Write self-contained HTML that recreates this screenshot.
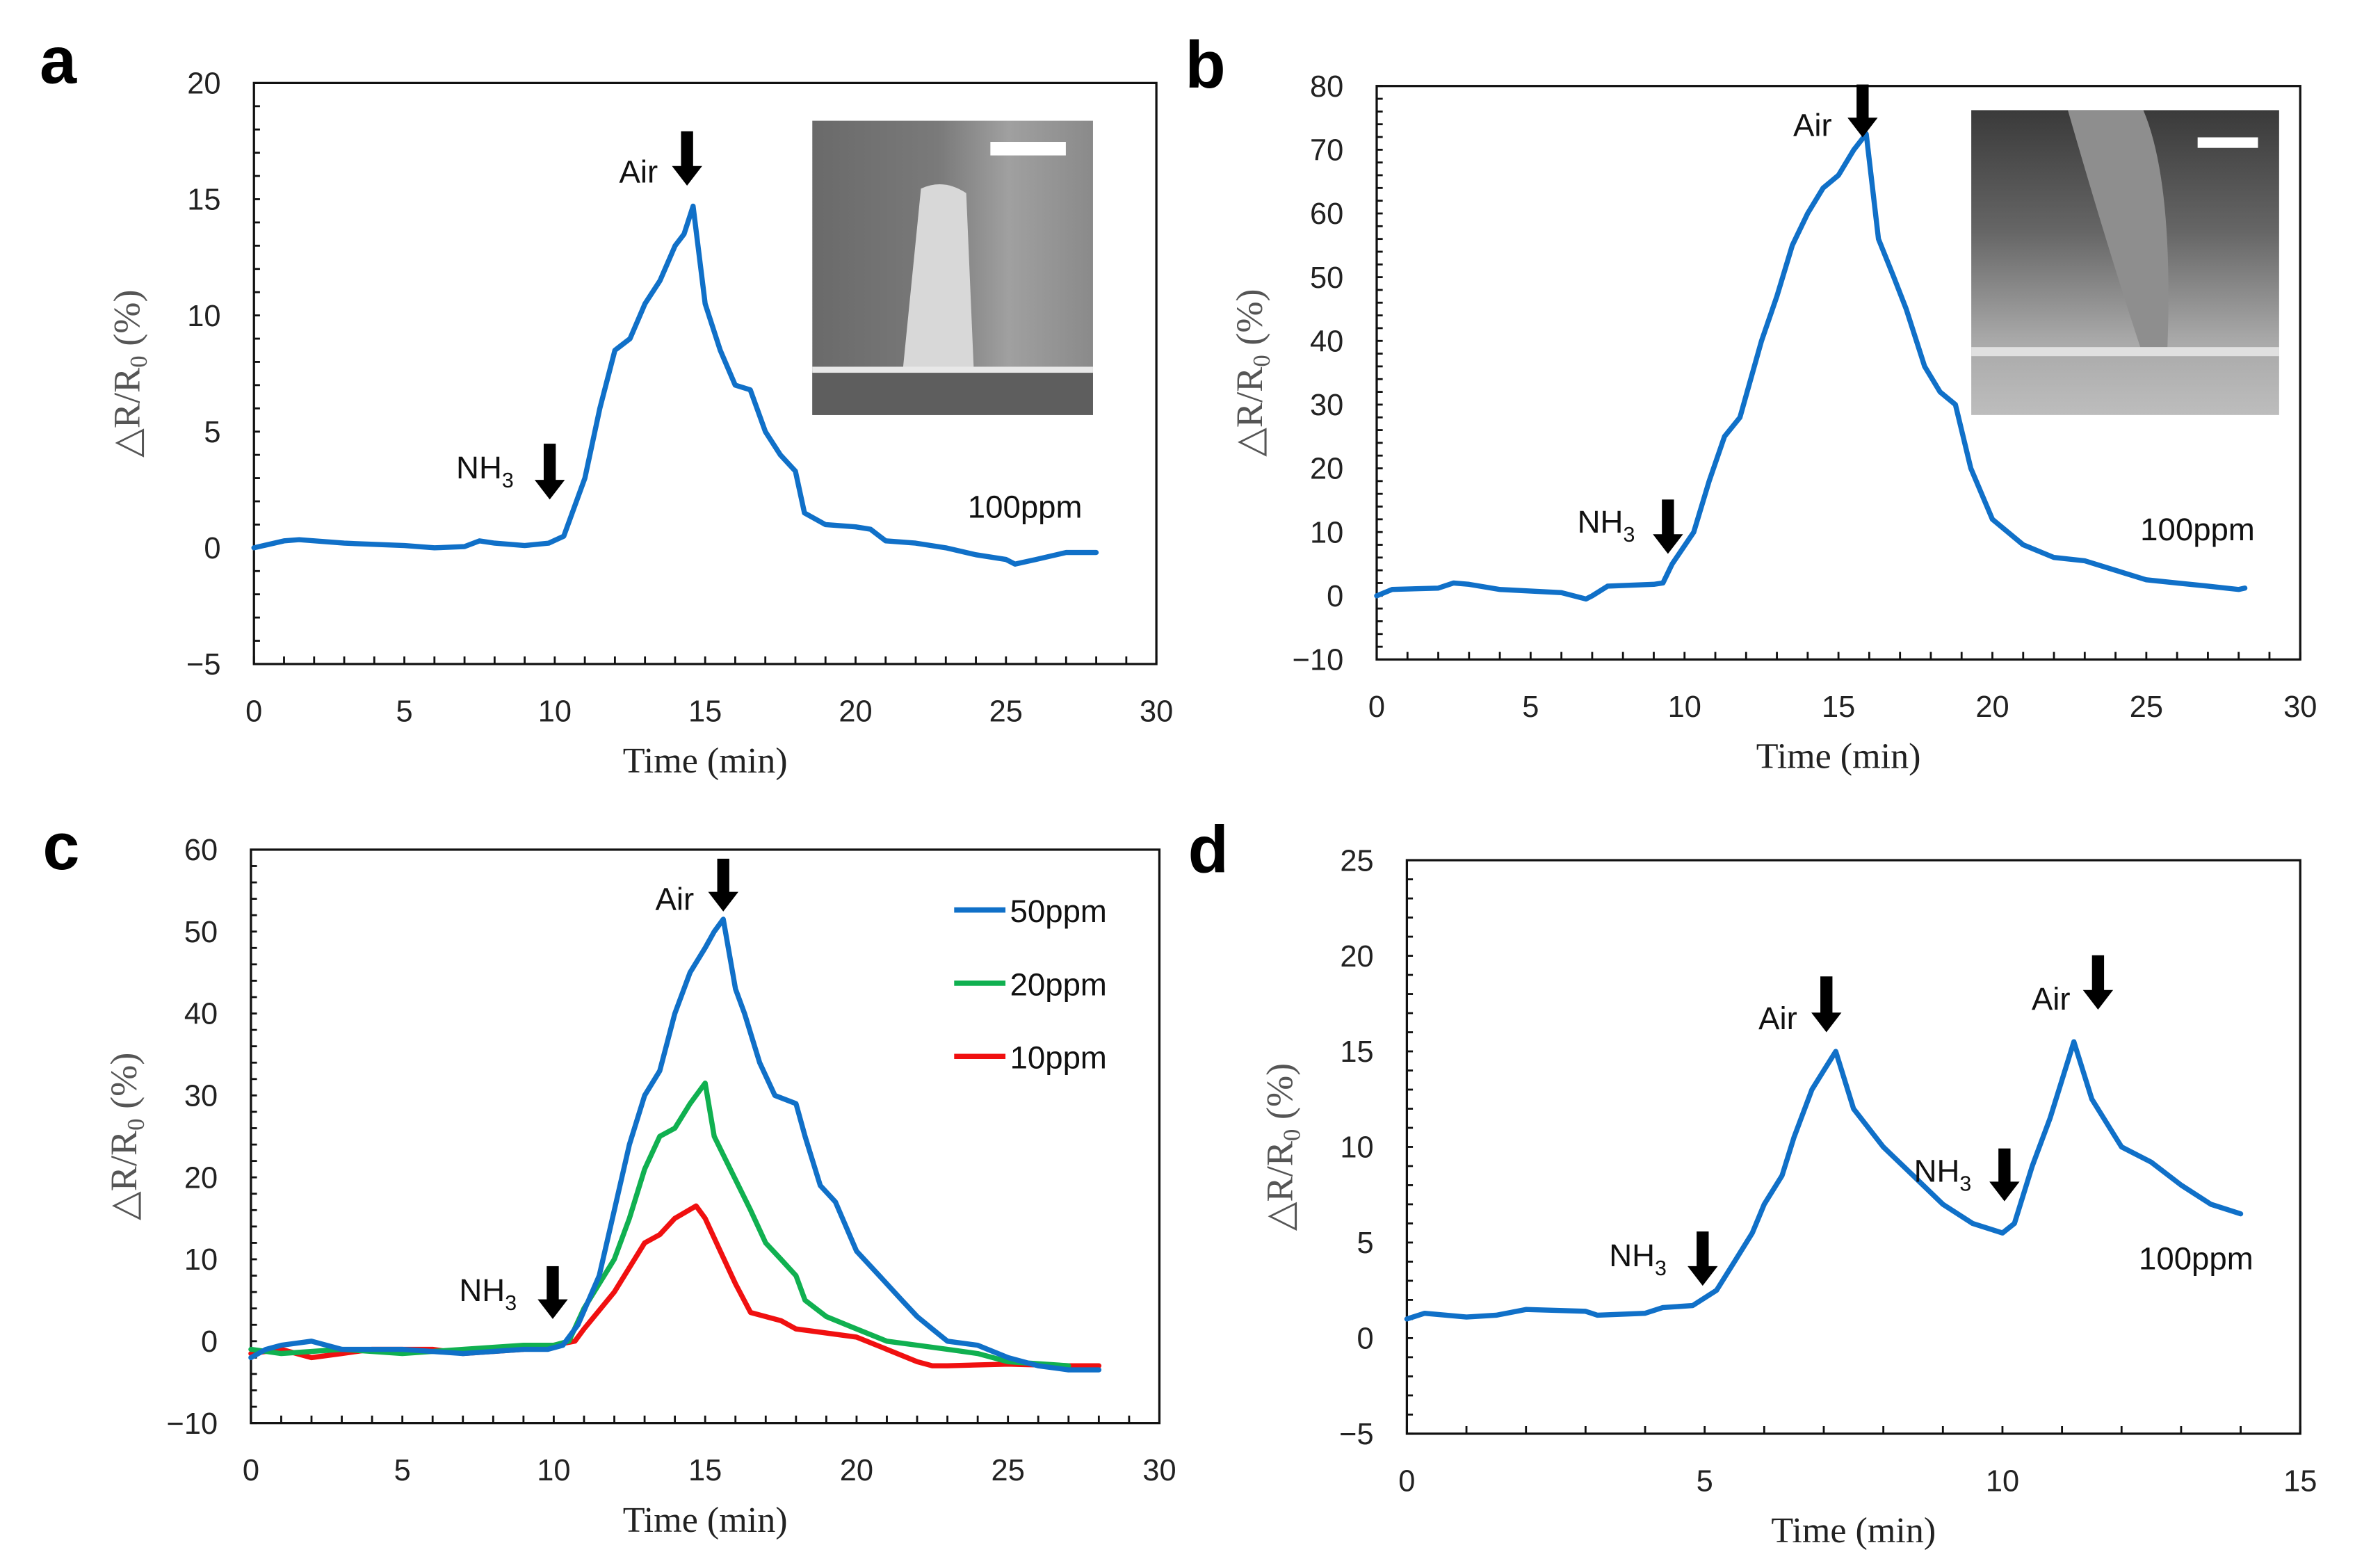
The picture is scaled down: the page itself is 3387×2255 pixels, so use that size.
<!DOCTYPE html>
<html><head><meta charset="utf-8"><style>
html,body{margin:0;padding:0;background:#fff;width:3387px;height:2255px;overflow:hidden}
svg{display:block}
.tk{font-family:"Liberation Sans",sans-serif;font-size:20px;fill:#222}
.ax{font-family:"Liberation Serif",serif;font-size:24px;fill:#222}
.yt{font-family:"Liberation Serif","DejaVu Serif",serif;font-size:25px;fill:#555}
.an{font-family:"Liberation Sans",sans-serif;font-size:21px;fill:#111}
.pl{font-family:"Liberation Sans",sans-serif;font-size:44px;font-weight:bold;fill:#000}
</style></head><body>
<svg id="fig" width="3387" height="2255" viewBox="0 0 1560 1039" xmlns="http://www.w3.org/2000/svg">
<defs>
<linearGradient id="gA" x1="0" y1="0" x2="1" y2="0"><stop offset="0" stop-color="#6a6a6a"/><stop offset="0.45" stop-color="#7a7a7a"/><stop offset="0.7" stop-color="#a0a0a0"/><stop offset="1" stop-color="#8a8a8a"/></linearGradient>
<linearGradient id="gB" x1="0" y1="0" x2="0" y2="1"><stop offset="0" stop-color="#3a3a3a"/><stop offset="0.4" stop-color="#666"/><stop offset="0.75" stop-color="#a8a8a8"/><stop offset="1" stop-color="#bdbdbd"/></linearGradient>
</defs>
<g id="insets">
<g>
<rect x="538" y="80" width="186" height="195" fill="url(#gA)"/>
<path d="M610 125 Q625 118 640 128 L645 245 L598 245 Z" fill="#d8d8d8"/>
<rect x="538" y="246" width="186" height="29" fill="#5e5e5e"/>
<rect x="538" y="243" width="186" height="4" fill="#e8e8e8"/>
<rect x="656" y="94" width="50" height="9" fill="#fff"/>
</g>
<g>
<rect x="1306" y="73" width="204" height="202" fill="url(#gB)"/>
<path d="M1370 73 L1420 73 Q1440 120 1436 230 L1418 230 Q1395 160 1370 73 Z" fill="#8e8e8e"/>
<rect x="1306" y="230" width="204" height="6" fill="#e0e0e0"/>
<rect x="1456" y="91" width="40" height="7" fill="#fff"/>
</g>
</g>
<g id="plots"></g>
<text class="pl" x="26" y="55">a</text>
<text class="pl" x="785" y="58">b</text>
<text class="pl" x="28" y="576">c</text>
<text class="pl" x="787" y="578">d</text>
</svg>
<script>
const NS="http://www.w3.org/2000/svg";
// ---- data ----
const aX=[0,1,1.5,3,5,6,7,7.5,8,9,9.8,10.3,11,11.5,12,12.5,13,13.5,14,14.3,14.6,15,15.5,16,16.5,17,17.5,18,18.3,19,20,20.5,21,22,23,24,25,25.3,26,27,28];
const aY=[0,0.3,0.35,0.2,0.1,0,0.05,0.3,0.2,0.1,0.2,0.5,3,6,8.5,9,10.5,11.5,13,13.5,14.7,10.5,8.5,7,6.8,5,4,3.3,1.5,1,0.9,0.8,0.3,0.2,0,-0.3,-0.5,-0.7,-0.5,-0.2,-0.2];
const bX=[0,0.5,2,2.5,3,4,6,6.8,7,7.5,9,9.3,9.6,10.3,10.8,11.3,11.8,12.5,13,13.5,14,14.5,15,15.5,15.9,16.3,16.8,17.2,17.8,18.3,18.8,19.3,20,21,21.5,22,23,24,25,26,27,28,28.2];
const bY=[0,1,1.2,2,1.8,1,0.5,-0.5,0,1.5,1.8,2,5,10,18,25,28,40,47,55,60,64,66,70,72.5,56,50,45,36,32,30,20,12,8,7,6,5.5,4,2.5,2,1.5,1,1.2];
const c50X=[0,0.5,1,2,3,5,7,9,9.8,10.3,10.8,11.5,12,12.5,13,13.5,14,14.5,15,15.3,15.6,16,16.3,16.8,17.3,18,18.3,18.8,19.3,20,21,21.5,22,22.5,23,24,25,26,27,28];
const c50Y=[-2,-1,-0.5,0,-1,-1,-1.5,-1,-1,-0.5,2,8,16,24,30,33,40,45,48,50,51.5,43,40,34,30,29,25,19,17,11,7,5,3,1.5,0,-0.5,-2,-3,-3.5,-3.5];
const c20X=[0,1,3,5,7,9,10,10.5,11,12,12.5,13,13.5,14,14.5,15,15.3,15.7,16.5,17,17.5,18,18.3,19,20,21,22,23,24,25,27];
const c20Y=[-1,-1.5,-1,-1.5,-1,-0.5,-0.5,0,4,10,15,21,25,26,29,31.5,25,22,16,12,10,8,5,3,1.5,0,-0.5,-1,-1.5,-2.5,-3];
const c10X=[0,1,2,3,4,6,7,9,10,10.7,11,12,12.5,13,13.5,14,14.7,15,15.5,16,16.5,17.5,18,19,20,21,22,22.5,23,25,27,28];
const c10Y=[-1.5,-1,-2,-1.5,-1,-1,-1.5,-1,-0.5,0,1.5,6,9,12,13,15,16.5,15,11,7,3.5,2.5,1.5,1,0.5,-1,-2.5,-3,-3,-2.8,-3,-3];
const dX=[0,0.3,1,1.5,2,3,3.2,4,4.3,4.8,5.2,5.5,5.8,6,6.3,6.5,6.8,7,7.2,7.5,8,8.5,9,9.5,10,10.2,10.5,10.8,11,11.2,11.5,12,12.5,13,13.5,14];
const dY=[1,1.3,1.1,1.2,1.5,1.4,1.2,1.3,1.6,1.7,2.5,4,5.5,7,8.5,10.5,13,14,15,12,10,8.5,7,6,5.5,6,9,11.5,13.5,15.5,12.5,10,9.2,8,7,6.5];
const ticksA=[0,5,10,15,20,25,30], yTicksA=[-5,0,5,10,15,20];
const yTicksB=[-10,0,10,20,30,40,50,60,70,80];
const yTicksC=[-10,0,10,20,30,40,50,60];
const ticksD=[0,5,10,15], yTicksD=[-5,0,5,10,15,20,25];
const legendLabels=["50ppm","20ppm","10ppm"];
// ---- drawing ----
const root=document.getElementById('plots');
function el(tag,attrs,parent){const e=document.createElementNS(NS,tag);for(const k in attrs)e.setAttribute(k,attrs[k]);(parent||root).appendChild(e);return e;}
function panel(id,box,xr,yr,xt,yt,xMinor,yMinor){
  const g=el('g',{});
  
  
  const sx=v=>box.l+(v-xr[0])/(xr[1]-xr[0])*(box.r-box.l);
  const sy=v=>box.b-(v-yr[0])/(yr[1]-yr[0])*(box.b-box.t);
  const fr=el('rect',{x:box.l,y:box.t,width:box.r-box.l,height:box.b-box.t,fill:'none',stroke:'#111','stroke-width':1.5},g);
  
  
  for(let v=xr[0];v<=xr[1]+1e-9;v+=xMinor){el('line',{x1:sx(v),x2:sx(v),y1:box.b,y2:box.b-5,stroke:'#111','stroke-width':1.3},g);}
  for(let v=yr[0];v<=yr[1]+1e-9;v+=yMinor){el('line',{x1:box.l,x2:box.l+4,y1:sy(v),y2:sy(v),stroke:'#111','stroke-width':1.3},g);}
  xt.forEach(v=>{const t=el('text',{x:sx(v),y:box.b+38,'text-anchor':'middle',class:'tk'},g);t.textContent=v;
    
    });
  yt.forEach(v=>{const t=el('text',{x:box.l-22,y:sy(v)+7,'text-anchor':'end',class:'tk'},g);t.textContent=v<0?'\u2212'+(-v):v;
    
    });
  const xl=el('text',{x:(box.l+box.r)/2,y:box.b+72,'text-anchor':'middle',class:'ax'},g);xl.textContent='Time (min)';
  
  
  const cx=box.l-76, cy=(box.t+box.b)/2;
  const yl=el('text',{x:cx,y:cy,'text-anchor':'middle',class:'yt',transform:`rotate(-90 ${cx} ${cy})`},g);
  yl.innerHTML='\u25B3R/R<tspan font-size="16" dy="5">0</tspan><tspan dy="-5"> (%)</tspan>';
  
  
  return {g,sx,sy};
}
function series(p,xs,ys,color,name){
  const d=xs.map((x,i)=>(i?'L':'M')+p.sx(x).toFixed(1)+' '+p.sy(ys[i]).toFixed(1)).join(' ');
  const path=el('path',{d,fill:'none',stroke:color,'stroke-width':3.4,'stroke-linejoin':'round','stroke-linecap':'round'},p.g);
  
  
}
function arrow(x,y1,y2,name){
  const g=el('g',{});
  
  
  el('rect',{x:x-4,y:y1,width:8,height:y2-y1-12,fill:'#000'},g);
  el('polygon',{points:`${x-10},${y2-13} ${x+10},${y2-13} ${x},${y2}`,fill:'#000'},g);
}
function label(x,y,html,name){
  const t=el('text',{x,y,class:'an'});t.innerHTML=html;
  
  
}
const NH3='NH<tspan font-size="14" dy="6">3</tspan>';
const BLUE='#1070c8',GREEN='#10b050',RED='#f01010';
const pa=panel('a',{l:168,r:766,t:55,b:440},[0,30],[-5,20],ticksA,yTicksA,1,1);
series(pa,aX,aY,BLUE,'series-100ppm-a');
const pb=panel('b',{l:912,r:1524,t:57,b:437},[0,30],[-10,80],ticksA,yTicksB,1,2);
series(pb,bX,bY,BLUE,'series-100ppm-b');
const pc=panel('c',{l:166,r:768,t:563,b:943},[0,30],[-10,60],ticksA,yTicksC,1,2);
series(pc,c10X,c10Y,RED,'series-10ppm');
series(pc,c20X,c20Y,GREEN,'series-20ppm');
series(pc,c50X,c50Y,BLUE,'series-50ppm');
const pd=panel('d',{l:932,r:1524,t:570,b:950},[0,15],[-5,25],ticksD,yTicksD,1,1);
series(pd,dX,dY,BLUE,'series-100ppm-d');
// annotations
label(410,121,'Air','air-label-a');arrow(455,87,123,'air-arrow-a');
label(302,317,NH3,'nh3-label-a');arrow(364,294,331,'nh3-arrow-a');
label(641,343,'100ppm','conc-label-a');
label(1188,90,'Air','air-label-b');arrow(1234,56,91,'air-arrow-b');
label(1045,353,NH3,'nh3-label-b');arrow(1105,331,367,'nh3-arrow-b');
label(1418,358,'100ppm','conc-label-b');
label(434,603,'Air','air-label-c');arrow(479,569,604,'air-arrow-c');
label(304,862,NH3,'nh3-label-c');arrow(366,839,874,'nh3-arrow-c');
label(1165,682,'Air','air-label-d1');arrow(1210,647,684,'air-arrow-d1');
label(1346,669,'Air','air-label-d2');arrow(1390,633,669,'air-arrow-d2');
label(1268,783,NH3,'nh3-label-d2');arrow(1328,761,796,'nh3-arrow-d2');
label(1066,839,NH3,'nh3-label-d1');arrow(1128,816,852,'nh3-arrow-d1');
label(1417,841,'100ppm','conc-label-d');
// legend c
const legCols=[BLUE,GREEN,RED];
legendLabels.forEach((lab,i)=>{
  const g=el('g',{});
  
  
  const y=603+i*48.5;
  el('line',{x1:632,x2:666,y1:y,y2:y,stroke:legCols[i],'stroke-width':3.5},g);
  const t=el('text',{x:669,y:y+8,class:'an'},g);t.textContent=lab;
});
</script>
</body></html>
